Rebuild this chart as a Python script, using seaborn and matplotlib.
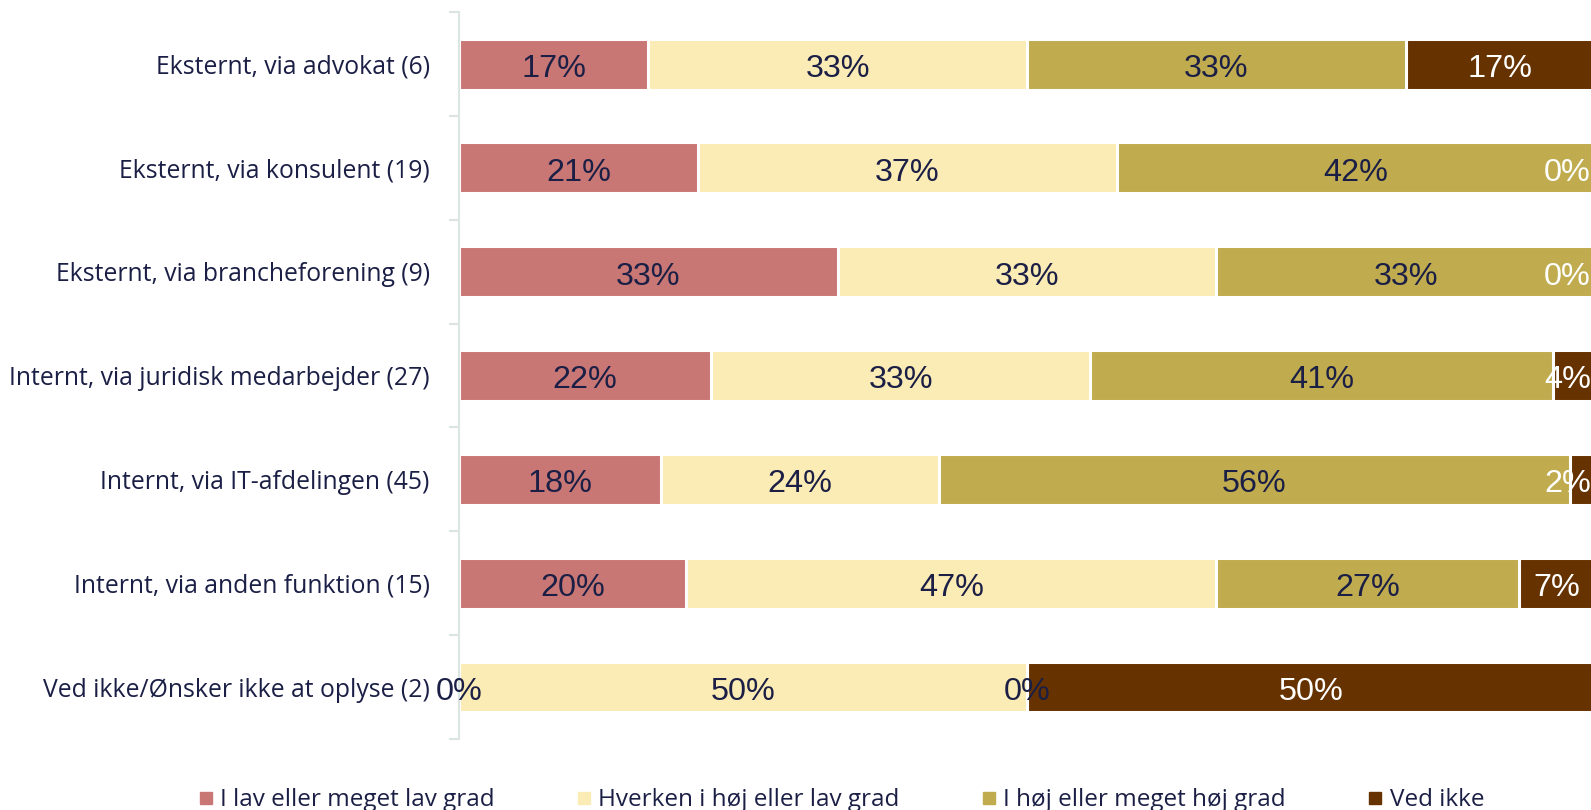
import matplotlib
matplotlib.use("Agg")
import matplotlib.pyplot as plt
from matplotlib.lines import Line2D
import numpy as np
import pandas as pd
import seaborn as sns

# Survey rows (respondent counts in the labels) and answer shares in percent
categories = [
    "Eksternt, via advokat (6)",
    "Eksternt, via konsulent (19)",
    "Eksternt, via brancheforening (9)",
    "Internt, via juridisk medarbejder (27)",
    "Internt, via IT-afdelingen (45)",
    "Internt, via anden funktion (15)",
    "Ved ikke/Ønsker ikke at oplyse (2)",
]
series_names = [
    "I lav eller meget lav grad",
    "Hverken i høj eller lav grad",
    "I høj eller meget høj grad",
    "Ved ikke",
]
lav = [16.67, 21.05, 33.33, 22.22, 17.78, 20.00, 0.0]
hverken = [33.33, 36.84, 33.33, 33.33, 24.44, 46.67, 50.0]
hoej = [33.33, 42.11, 33.33, 40.74, 55.56, 26.67, 0.0]
ved_ikke = [16.67, 0.0, 0.0, 3.70, 2.22, 6.67, 50.0]

colors = ["#C97775", "#FBEBB5", "#C0AC4E", "#663300"]
label_colors = ["#1B1F45", "#1B1F45", "#1B1F45", "#FFFFFF"]
navy = "#1B1F45"
axis_grey = "#DCE6E1"

sns.set_theme(style="white")
plt.rcParams["font.family"] = ["Open Sans", "DejaVu Sans"]

values = np.array([lav, hverken, hoej, ved_ikke])
cum = np.cumsum(values, axis=0)

fig = plt.figure(figsize=(15.91, 8.10), dpi=100)
ax = fig.add_axes([0.2885, 0.0877, 0.714, 0.8973])

# Stacked bars drawn as overlapping cumulative totals, widest first
for i in reversed(range(4)):
    df = pd.DataFrame({"cat": categories, "val": cum[i]})
    sns.barplot(data=df, x="val", y="cat", orient="h", color=colors[i],
                saturation=1, width=0.49, errorbar=None,
                edgecolor="white", linewidth=2.2, ax=ax)

ax.set_xlim(0, 100)
ax.set_ylim(len(categories) - 0.5, -0.5)
ax.set_xlabel("")
ax.set_ylabel("")
ax.set_xticks([])

# Segment value labels, kept inside the plot at the right end
for i in range(4):
    start = cum[i] - values[i]
    for j, v in enumerate(values[i]):
        txt = f"{v:.0f}%"
        center = start[j] + v / 2
        kw = dict(color=label_colors[i], fontsize=23.3, va="center_baseline",
                  family=["Liberation Sans", "DejaVu Sans"])
        if center > 97:
            ax.annotate(txt, xy=(100, j), xytext=(-3, -1),
                        textcoords="offset points", ha="right", **kw)
        else:
            ax.annotate(txt, xy=(center, j), xytext=(0, -1),
                        textcoords="offset points", ha="center", **kw)

for side in ["top", "right", "bottom"]:
    ax.spines[side].set_visible(False)
ax.spines["left"].set_color(axis_grey)
ax.spines["left"].set_linewidth(1.5)

ax.tick_params(axis="y", which="major", length=0, pad=21,
               labelsize=17.8, labelcolor=navy)
ax.set_yticks(np.arange(-0.5, len(categories)), minor=True)
ax.tick_params(axis="y", which="minor", length=7, width=1.5,
               color=axis_grey, direction="out", left=True)

handles = [Line2D([0], [0], marker="s", linestyle="none", markersize=9,
                  markerfacecolor=c, markeredgecolor=c) for c in colors]
fig.legend(handles, series_names, loc="center", ncol=4,
           bbox_to_anchor=(0.528, 0.012), frameon=False,
           fontsize=17.5, labelcolor=navy, handletextpad=0.2,
           columnspacing=3.26, handlelength=0.8)

fig.savefig("out.png", dpi=100)
